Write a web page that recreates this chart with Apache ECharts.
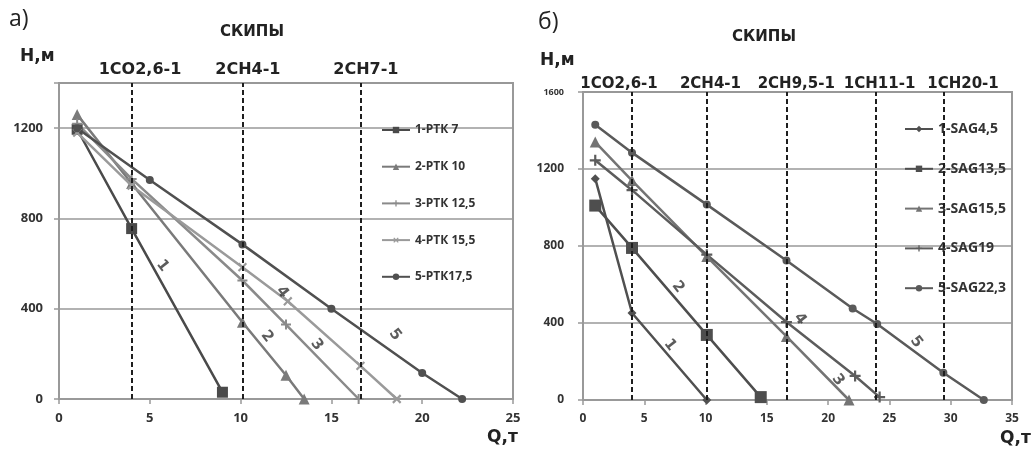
<!DOCTYPE html>
<html>
<head>
<meta charset="utf-8">
<script src="https://cdn.jsdelivr.net/npm/echarts@6/dist/echarts.min.js"></script>
<style>
html, body { margin: 0; padding: 0; background: #fff; }
#chart { width: 1032px; height: 454px; }
</style>
</head>
<body>
<div id="chart"></div>
<script>
// а) РТК  — Q (т), H (м)
const namesA = ['1-РТК 7', '2-РТК 10', '3-РТК 12,5', '4-РТК 15,5', '5-РТК17,5'];
const ptk7 = [[1, 1195], [4, 755], [9, 30]];
const ptk10 = [[1, 1260], [4, 955], [10.1, 340], [12.5, 105], [13.5, 0]];
const ptk125 = [[1, 1220], [4, 975], [10.1, 525], [12.5, 330], [16.5, 0]];
const ptk155 = [[1, 1180], [4, 945], [10.1, 584], [12.6, 433], [16.6, 147], [18.6, 0]];
const ptk175 = [[1, 1200], [5, 970], [10.1, 685], [15, 400], [20, 115], [22.2, 0]];
const skipsA = ['1СО2,6-1', '2СН4-1', '2СН7-1'];
const skipQA = [4, 10.1, 16.6];
const skipTextQA = [4.46, 10.4, 16.9];
const curveNumA = ['1', '2', '3', '4', '5'];
const curveNumQA = [5.7, 11.45, 14.2, 12.3, 18.5];
const curveNumHA = [590, 277, 241, 473, 285];

// б) SAG
const namesB = ['1-SAG4,5', '2-SAG13,5', '3-SAG15,5', '4-SAG19', '5-SAG22,3'];
const sag45 = [[1, 1150], [4, 452], [10.1, 0]];
const sag135 = [[1, 1010], [4, 790], [10.1, 338], [14.5, 15]];
const sag155 = [[1, 1340], [4, 1140], [10.1, 745], [16.6, 330], [21.7, 0]];
const sag19 = [[1, 1245], [4, 1090], [10.1, 755], [16.6, 405], [22.2, 125], [24.2, 15]];
const sag223 = [[1, 1430], [4, 1285], [10.1, 1015], [16.6, 725], [22, 475], [24, 395], [29.4, 142], [32.7, 0]];
const skipsB = ['1СО2,6-1', '2СН4-1', '2СН9,5-1', '1СН11-1', '1СН20-1'];
const skipQB = [4, 10.1, 16.6, 23.9, 29.4];
const skipTextQB = [2.94, 10.4, 17.4, 24.2, 31.0];
const curveNumB = ['1', '2', '3', '4', '5'];
const curveNumQB = [7.1, 7.75, 20.8, 17.7, 27.2];
const curveNumHB = [286, 587, 104, 421, 301];

const PLUS = 'path://M4,0H6V4H10V6H6V10H4V6H0V4H4Z';
const BOLD = { fontFamily: 'Open Sans', fontWeight: 'bold', color: '#333' };

const chart = echarts.init(document.getElementById('chart'));

function axisX(gridIndex, max) {
  return {
    type: 'value', gridIndex: gridIndex, min: 0, max: max, interval: 5,
    axisLine: { show: true, lineStyle: { color: '#999', width: 2 } },
    axisTick: { show: true, length: 5, lineStyle: { color: '#999', width: 1.5 } },
    axisLabel: Object.assign({ fontSize: gridIndex ? 12 : 13, margin: 13 }, BOLD),
    splitLine: { show: false }
  };
}

function axisY(gridIndex, max) {
  return {
    type: 'value', gridIndex: gridIndex, min: 0, max: max, interval: 400,
    axisLine: { show: true, lineStyle: { color: '#999', width: 2 } },
    axisTick: { show: true, length: 5, lineStyle: { color: '#999', width: 1.5 } },
    axisLabel: Object.assign({
      fontSize: gridIndex ? 12 : 13, margin: gridIndex ? 19 : 16,
      formatter: v => (gridIndex === 0 && v === 1400) ? '' : (v === 1600 ? '{s|1600}' : v),
      rich: { s: { fontSize: 9, fontFamily: 'Open Sans', fontWeight: 'bold', color: '#333' } }
    }, BOLD),
    splitLine: { show: true, lineStyle: { color: '#999', width: 1.5 } }
  };
}

function curve(name, data, idx, color, symbol, size, rotate) {
  return {
    type: 'line', name: name, data: data,
    xAxisIndex: idx, yAxisIndex: idx,
    symbol: symbol, symbolSize: size, symbolRotate: rotate || 0, showAllSymbol: true,
    lineStyle: { color: color, width: 2.5 },
    itemStyle: { color: color },
    z: 3
  };
}

function skipLines(idx, qs) {
  return {
    type: 'line', name: 'skips' + idx, data: [],
    xAxisIndex: idx, yAxisIndex: idx,
    markLine: {
      silent: true, symbol: 'none', animation: false,
      label: { show: false },
      lineStyle: { color: '#1e1e1e', width: 2, type: [5, 3] },
      data: qs.map(q => ({ xAxis: q }))
    },
    z: 4
  };
}

function curveNumbers(idx, texts, qs, hs) {
  return {
    type: 'scatter', name: 'num' + idx,
    xAxisIndex: idx, yAxisIndex: idx,
    symbolSize: 1, itemStyle: { color: 'transparent' }, silent: true,
    label: {
      show: true, position: 'inside', formatter: p => p.name, rotate: -52,
      fontFamily: 'DejaVu Sans', fontWeight: 'bold', fontSize: 15, color: '#333'
    },
    data: texts.map((t, i) => ({ name: t, value: [qs[i], hs[i]] })),
    z: 5
  };
}

const titleStyle = (size, weight) => ({ fontFamily: 'DejaVu Sans', fontSize: size, fontWeight: weight, color: '#222' });

chart.setOption({
  animation: false,
  title: [
    { text: 'а)', left: 4, top: 3, textStyle: Object.assign(titleStyle(23, 'normal'), { fontFamily: 'Open Sans' }) },
    { text: 'СКИПЫ', left: 215, top: 20, textStyle: titleStyle(15, 'bold') },
    { text: 'Н,м', left: 15, top: 43, textStyle: titleStyle(17, 'bold') },
    { text: 'Q,т', left: 482, top: 424, textStyle: titleStyle(17, 'bold') },
    { text: 'б)', left: 533, top: 6, textStyle: Object.assign(titleStyle(23, 'normal'), { fontFamily: 'Open Sans' }) },
    { text: 'СКИПЫ', left: 727, top: 25, textStyle: titleStyle(15, 'bold') },
    { text: 'Н,м', left: 535, top: 47, textStyle: titleStyle(17, 'bold') },
    { text: 'Q,т', left: 995, top: 425, textStyle: titleStyle(17, 'bold') }
  ],
  grid: [
    { left: 59, top: 83, width: 454, height: 316, show: true, borderColor: '#999', borderWidth: 2 },
    { left: 583, top: 92, width: 429, height: 308, show: true, borderColor: '#999', borderWidth: 2 }
  ],
  xAxis: [axisX(0, 25), axisX(1, 35)],
  yAxis: [axisY(0, 1400), axisY(1, 1600)],
  legend: [
    {
      data: namesA, orient: 'vertical', left: 376, top: 118,
      itemWidth: 28, itemHeight: 8, itemGap: 22.7,
      textStyle: Object.assign({ fontSize: 12, lineHeight: 14 }, BOLD)
    },
    {
      data: namesB, orient: 'vertical', left: 899, top: 116,
      itemWidth: 28, itemHeight: 8, itemGap: 23.8,
      textStyle: Object.assign({ fontSize: 14, lineHeight: 16 }, BOLD)
    }
  ],
  series: [
    skipLines(0, skipQA),
    curve(namesA[0], ptk7, 0, '#4a4a4a', 'rect', 11),
    curve(namesA[1], ptk10, 0, '#7a7a7a', 'triangle', 11),
    curve(namesA[2], ptk125, 0, '#8a8a8a', PLUS, 10),
    curve(namesA[3], ptk155, 0, '#9a9a9a', PLUS, 11, 45),
    curve(namesA[4], ptk175, 0, '#505050', 'circle', 8),
    curveNumbers(0, curveNumA, curveNumQA, curveNumHA),
    skipLines(1, skipQB),
    curve(namesB[0], sag45, 1, '#505050', 'diamond', 9),
    curve(namesB[1], sag135, 1, '#4e4e4e', 'rect', 12),
    curve(namesB[2], sag155, 1, '#747474', 'triangle', 11),
    curve(namesB[3], sag19, 1, '#5c5c5c', PLUS, 11),
    curve(namesB[4], sag223, 1, '#5a5a5a', 'circle', 8),
    curveNumbers(1, curveNumB, curveNumQB, curveNumHB)
  ]
});

// skip names above the plot, placed on the Q axis
function skipTexts(idx, texts, qs, y, size) {
  return texts.map((t, i) => ({
    type: 'text',
    x: chart.convertToPixel({ xAxisIndex: idx }, qs[i]),
    y: y,
    style: {
      text: t, align: 'center', verticalAlign: 'middle',
      fontFamily: 'DejaVu Sans', fontWeight: 'bold', fontSize: size, fill: '#222'
    }
  }));
}

chart.setOption({
  graphic: skipTexts(0, skipsA, skipTextQA, 70, 16).concat(skipTexts(1, skipsB, skipTextQB, 84, 15))
});
</script>
</body>
</html>
